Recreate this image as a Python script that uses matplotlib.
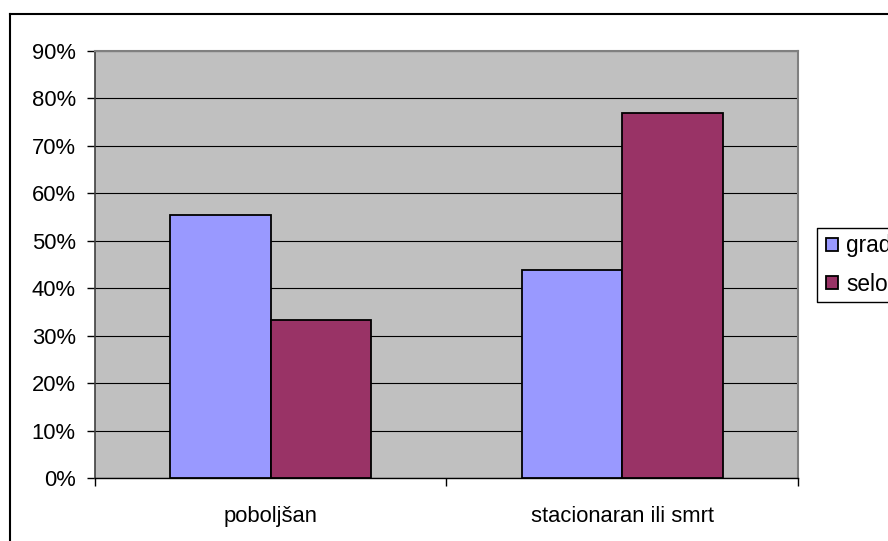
import numpy as np
import matplotlib.pyplot as plt
from matplotlib.lines import Line2D
from matplotlib.ticker import FixedLocator, PercentFormatter

# data
categories = ['poboljšan', 'stacionaran ili smrt']
series_names = ['grad', 'selo']
grad = [55.4, 43.8]
selo = [33.3, 77.0]
colors = ['#9999FF', '#993366']

plt.rcParams['font.family'] = ['Liberation Sans', 'DejaVu Sans']
fs = 15.8

fig = plt.figure(figsize=(8.88, 5.41), dpi=100)
ax = fig.add_axes([95 / 888, 1 - 478.3 / 541, (797.7 - 95) / 888, (478.3 - 51) / 541])
ax.set_facecolor('#C0C0C0')

x = np.arange(len(categories))
w = 0.286
ax.bar(x - w / 2, grad, w, color=colors[0], edgecolor='black', linewidth=1.3,
       label=series_names[0], zorder=3)
ax.bar(x + w / 2, selo, w, color=colors[1], edgecolor='black', linewidth=1.3,
       label=series_names[1], zorder=3)

ax.set_xlim(-0.5, len(categories) - 0.5)
ax.set_ylim(0, 90)
ax.set_yticks(np.arange(0, 91, 10))
ax.yaxis.set_major_formatter(PercentFormatter(decimals=0))
ax.grid(axis='y', color='black', linewidth=0.8, zorder=1)
ax.set_axisbelow(True)

ax.set_xticks(x)
ax.set_xticklabels(categories)
ax.xaxis.set_minor_locator(FixedLocator(np.arange(-0.5, len(categories), 1.0)))
ax.tick_params(axis='x', which='major', length=0, pad=20, labelsize=fs)
ax.tick_params(axis='x', which='minor', length=5.5, width=1, color='black', direction='out')
ax.tick_params(axis='y', length=5.8, width=1, color='black', pad=8, labelsize=fs)

for side in ['top', 'right']:
    ax.spines[side].set_color('#808080')
    ax.spines[side].set_linewidth(1.5)
ax.spines['left'].set_color('#404040')
ax.spines['left'].set_linewidth(1.2)
ax.spines['bottom'].set_color('black')
ax.spines['bottom'].set_linewidth(1.0)

# legend box runs past the right edge of the picture: draw only top, left, bottom
x0 = 817 / 888
y1 = 1 - 228 / 541
y0 = 1 - 302 / 541
fig.add_artist(Line2D([1.0, x0, x0, 1.0], [y1, y1, y0, y0], color='black', linewidth=1.0))
leg = fig.legend(loc='center left', bbox_to_anchor=(x0, (y0 + y1) / 2),
                 borderaxespad=0, fontsize=16.3, frameon=False,
                 handlelength=0.53, handleheight=0.53, handletextpad=0.35,
                 labelspacing=0.68, borderpad=0.4)
for h in leg.legend_handles:
    h.set_linewidth(1.3)

# outer chart frame (only top and left visible in the crop)
fig.add_artist(Line2D([10 / 888, 10 / 888], [0, 1 - 14 / 541], color='black', linewidth=1.5))
fig.add_artist(Line2D([10 / 888, 1], [1 - 14 / 541, 1 - 14 / 541], color='black', linewidth=1.5))

fig.savefig('out.png', dpi=100)
